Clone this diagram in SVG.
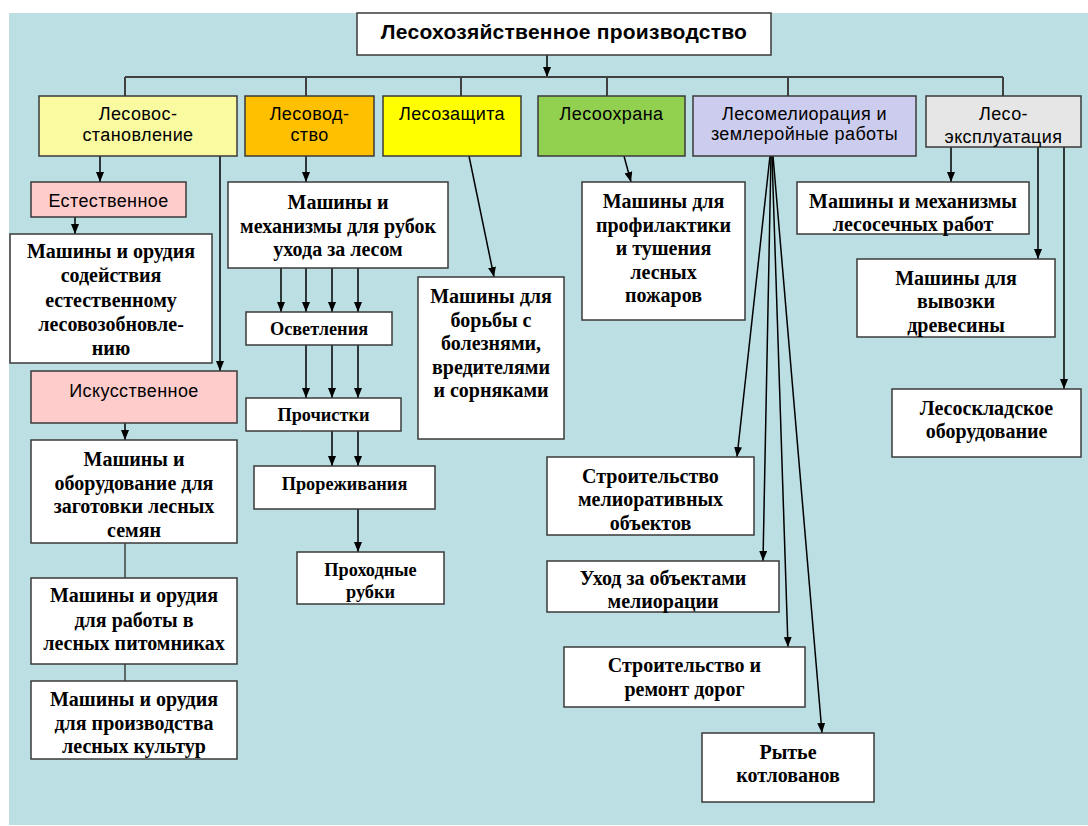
<svg xmlns="http://www.w3.org/2000/svg" width="1088" height="826" viewBox="0 0 1088 826">
<style>
.b{stroke:#3a3a3a;stroke-width:1.5}
.w{fill:#fff}
.t{font-family:"Liberation Serif","Times New Roman",serif;font-weight:bold;font-size:20px;fill:#000;text-anchor:middle}
.t.m{font-size:18.3px}
.s{font-family:"Liberation Sans",Arial,sans-serif;font-size:18px;letter-spacing:0.4px;fill:#000;text-anchor:middle}
.s.h{font-size:21px;font-weight:bold;letter-spacing:0.25px}
.c{stroke:#000;stroke-width:1.5;fill:none}
.a{marker-end:url(#ah)}
.g{stroke:#404040;stroke-width:2;fill:none}
.g2{stroke:#404040;stroke-width:1.5;fill:none}
</style>
<defs>
<marker id="ah" viewBox="0 0 10 8" refX="10" refY="4" markerWidth="10" markerHeight="8" orient="auto" markerUnits="userSpaceOnUse"><path d="M0,0 L10,4 L0,8 z" fill="#000"/></marker>
</defs>
<rect x="0" y="0" width="1088" height="826" fill="#fff"/>
<rect x="9" y="13" width="1079" height="812" fill="#bcdfe3"/>

<g id="connectors">
<line class="c a" x1="547" y1="55" x2="547" y2="77"/>
<path class="g" d="M125,77 H1003 M125,77 V96 M306,77 V96 M461,77 V96 M607,77 V96 M788,77 V96 M1003,77 V96"/>
<line class="c a" x1="100" y1="156" x2="100" y2="182"/>
<line class="c a" x1="220" y1="156" x2="220" y2="371"/>
<line class="c a" x1="75" y1="217" x2="75" y2="234"/>
<line class="c a" x1="125" y1="423" x2="125" y2="440"/>
<path class="g2" d="M125,543 V578 M125,664 V681"/>
<line class="c a" x1="306" y1="156" x2="306" y2="182"/>
<line class="c a" x1="281" y1="268" x2="281" y2="312"/>
<line class="c a" x1="306" y1="268" x2="306" y2="312"/>
<line class="c a" x1="332" y1="268" x2="332" y2="312"/>
<line class="c a" x1="358" y1="268" x2="358" y2="312"/>
<line class="c a" x1="306" y1="345" x2="306" y2="398"/>
<line class="c a" x1="332" y1="345" x2="332" y2="398"/>
<line class="c a" x1="358" y1="345" x2="358" y2="398"/>
<line class="c a" x1="332" y1="431" x2="332" y2="466"/>
<line class="c a" x1="358" y1="431" x2="358" y2="466"/>
<line class="c a" x1="358" y1="509" x2="358" y2="552"/>
<line class="c a" x1="469" y1="156" x2="494" y2="277"/>
<line class="c a" x1="624" y1="156" x2="631" y2="182"/>
<line class="c a" x1="770" y1="156" x2="737" y2="457"/>
<line class="c a" x1="771" y1="156" x2="763" y2="561"/>
<line class="c a" x1="772" y1="156" x2="788" y2="647"/>
<line class="c a" x1="773" y1="156" x2="822" y2="733"/>
<line class="c a" x1="951" y1="147" x2="951" y2="182"/>
<line class="c a" x1="1038" y1="147" x2="1038" y2="259"/>
<line class="c a" x1="1064" y1="147" x2="1064" y2="389"/>
</g>

<g id="top"><rect class="b w" x="357" y="13" width="414" height="42"/><text class="s h" x="564" y="39">Лесохозяйственное производство</text></g>

<g id="cat1"><rect class="b" fill="#fafaa0" x="39" y="96" width="198" height="60"/><text class="s" x="138" y="120">Лесовос-</text><text class="s" x="138" y="141">становление</text></g>
<g id="cat2"><rect class="b" fill="#ffc000" x="245" y="96" width="129" height="60"/><text class="s" x="309.5" y="120">Лесовод-</text><text class="s" x="309.5" y="141">ство</text></g>
<g id="cat3"><rect class="b" fill="#ffff00" x="383" y="96" width="138" height="60"/><text class="s" x="452" y="120">Лесозащита</text></g>
<g id="cat4"><rect class="b" fill="#92d050" x="538" y="96" width="147" height="60"/><text class="s" x="611.5" y="120">Лесоохрана</text></g>
<g id="cat5"><rect class="b" fill="#ccccee" x="693" y="96" width="223" height="60"/><text class="s" x="804.5" y="120">Лесомелиорация и</text><text class="s" x="804.5" y="140">землеройные работы</text></g>
<g id="cat6"><rect class="b" fill="#e6e6e6" x="926" y="96" width="155" height="51"/><text class="s" x="1003.5" y="120">Лесо-</text><text class="s" x="1003.5" y="143">эксплуатация</text></g>

<g id="estestv"><rect class="b" fill="#ffcccc" x="31" y="182" width="155" height="35"/><text class="s" x="108.5" y="207">Естественное</text></g>
<g id="box-sodeistv"><rect class="b w" x="10" y="234" width="202" height="129"/><text class="t" x="111" y="258">Машины и орудия</text><text class="t" x="111" y="282">содействия</text><text class="t" x="111" y="307">естественному</text><text class="t" x="111" y="331">лесовозобновле-</text><text class="t" x="111" y="355">нию</text></g>
<g id="iskusstv"><rect class="b" fill="#ffcccc" x="31" y="371" width="206" height="52"/><text class="s" x="134" y="397">Искусственное</text></g>
<g id="box-semyan"><rect class="b w" x="31" y="440" width="206" height="103"/><text class="t" x="134" y="466">Машины и</text><text class="t" x="134" y="490">оборудование для</text><text class="t" x="134" y="513">заготовки лесных</text><text class="t" x="134" y="537">семян</text></g>
<g id="box-pitomn"><rect class="b w" x="31" y="578" width="206" height="86"/><text class="t" x="134" y="602">Машины и орудия</text><text class="t" x="134" y="627">для работы в</text><text class="t" x="134" y="650">лесных питомниках</text></g>
<g id="box-kultur"><rect class="b w" x="31" y="681" width="206" height="78"/><text class="t" x="134" y="706">Машины и орудия</text><text class="t" x="134" y="730">для производства</text><text class="t" x="134" y="753">лесных культур</text></g>

<g id="box-rubok"><rect class="b w" x="228" y="182" width="220" height="86"/><text class="t" x="338" y="209">Машины и</text><text class="t" x="338" y="233">механизмы для рубок</text><text class="t" x="338" y="256">ухода за лесом</text></g>
<g id="osvetl"><rect class="b w" x="246" y="312" width="146" height="33"/><text class="t m" x="319" y="335">Осветления</text></g>
<g id="prochist"><rect class="b w" x="246" y="398" width="155" height="33"/><text class="t m" x="323.5" y="421">Прочистки</text></g>
<g id="prorezh"><rect class="b w" x="254" y="466" width="181" height="43"/><text class="t m" x="344.5" y="490">Прореживания</text></g>
<g id="prohod"><rect class="b w" x="297" y="552" width="147" height="52"/><text class="t m" x="370.5" y="576">Проходные</text><text class="t m" x="370.5" y="598">рубки</text></g>

<g id="box-bolezn"><rect class="b w" x="418" y="277" width="146" height="162"/><text class="t" x="491" y="303">Машины для</text><text class="t" x="491" y="327">борьбы с</text><text class="t" x="491" y="350">болезнями,</text><text class="t" x="491" y="374">вредителями</text><text class="t" x="491" y="397">и сорняками</text></g>
<g id="box-pozhar"><rect class="b w" x="582" y="182" width="163" height="138"/><text class="t" x="663.5" y="208">Машины для</text><text class="t" x="663.5" y="232">профилактики</text><text class="t" x="663.5" y="255">и тушения</text><text class="t" x="663.5" y="279">лесных</text><text class="t" x="663.5" y="302">пожаров</text></g>

<g id="box-meliorat"><rect class="b w" x="547" y="457" width="207" height="78"/><text class="t" x="650.5" y="483">Строительство</text><text class="t" x="650.5" y="506">мелиоративных</text><text class="t" x="650.5" y="530">объектов</text></g>
<g id="box-uhod"><rect class="b w" x="547" y="561" width="232" height="51"/><text class="t" x="663" y="585">Уход за объектами</text><text class="t" x="663" y="608">мелиорации</text></g>
<g id="box-dorog"><rect class="b w" x="564" y="647" width="241" height="60"/><text class="t" x="684.5" y="672">Строительство и</text><text class="t" x="684.5" y="696">ремонт дорог</text></g>
<g id="box-kotlovan"><rect class="b w" x="702" y="733" width="172" height="69"/><text class="t" x="788" y="759">Рытье</text><text class="t" x="788" y="782">котлованов</text></g>

<g id="box-lesosech"><rect class="b w" x="797" y="182" width="232" height="52"/><text class="t" x="913" y="208">Машины и механизмы</text><text class="t" x="913" y="231">лесосечных работ</text></g>
<g id="box-vyvozki"><rect class="b w" x="857" y="259" width="198" height="78"/><text class="t" x="956" y="285">Машины для</text><text class="t" x="956" y="308">вывозки</text><text class="t" x="956" y="332">древесины</text></g>
<g id="box-sklad"><rect class="b w" x="892" y="389" width="189" height="68"/><text class="t" x="986.5" y="415">Лесоскладское</text><text class="t" x="986.5" y="438">оборудование</text></g>
</svg>
